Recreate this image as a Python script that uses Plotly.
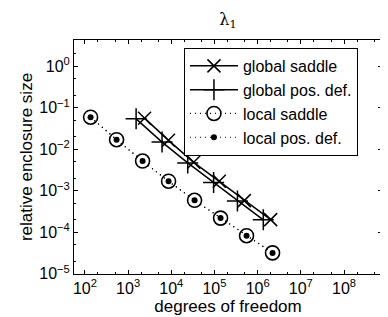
import plotly.graph_objects as go

# data
dof_local = [135, 540, 2160, 8640, 34560, 138240, 552960, 2211840]
local_saddle = [0.059, 0.017, 0.0052, 0.0017, 5.9e-4, 2.2e-4, 8.3e-5, 3.2e-5]
local_posdef = [0.059, 0.017, 0.0052, 0.0017, 5.9e-4, 2.2e-4, 8.3e-5, 3.2e-5]

dof_global_saddle = [2400, 8600, 33000, 129000, 490000, 2.0e6]
global_saddle = [0.056, 0.0164, 0.00484, 0.0017, 5.8e-4, 2.02e-4]

dof_global_posdef = [1530, 6100, 24000, 95500, 340000, 1.35e6]
global_posdef = [0.054, 0.0149, 0.00468, 0.00158, 5.7e-4, 2.0e-4]

x_exponents = [2, 3, 4, 5, 6, 7, 8]
y_exponents = [-5, -4, -3, -2, -1, 0]
x_tickvals = [10.0 ** e for e in x_exponents]
x_ticktext = ["10<sup>%d</sup>" % e for e in x_exponents]
y_tickvals = [10.0 ** e for e in y_exponents]
y_ticktext = ["10<sup>%s</sup>" % (str(e).replace("-", "\u2212")) for e in y_exponents]

FONT = "Liberation Sans, Arial, Helvetica, sans-serif"

fig = go.Figure()
fig.add_trace(go.Scatter(
    x=dof_global_saddle, y=global_saddle, name="global saddle",
    mode="lines+markers",
    line=dict(color="black", width=1.5),
    marker=dict(symbol="x-thin-open", size=13, color="black",
                line=dict(color="black", width=1.5)),
))
fig.add_trace(go.Scatter(
    x=dof_global_posdef, y=global_posdef, name="global pos. def.",
    mode="lines+markers",
    line=dict(color="black", width=1.5),
    marker=dict(symbol="cross-thin-open", size=15, color="black",
                line=dict(color="black", width=1.5)),
))
fig.add_trace(go.Scatter(
    x=dof_local, y=local_saddle, name="local saddle",
    mode="lines+markers",
    line=dict(color="black", width=1.2, dash="1px,4px"),
    marker=dict(symbol="circle-open", size=14, color="black",
                line=dict(color="black", width=1.6)),
))
fig.add_trace(go.Scatter(
    x=dof_local, y=local_posdef, name="local pos. def.",
    mode="lines+markers",
    line=dict(color="black", width=1.2, dash="1px,4px"),
    marker=dict(symbol="circle", size=6, color="black"),
))

axis_common = dict(
    type="log", showline=True, linecolor="black", linewidth=1, mirror="allticks",
    ticks="inside", ticklen=4, tickcolor="black", showgrid=False, zeroline=False,
    tickmode="array",
    tickfont=dict(family=FONT, size=16, color="black"),
    minor=dict(ticks="inside", ticklen=2, tickcolor="black", showgrid=False),
)

fig.update_layout(
    width=388, height=317,
    margin=dict(l=66, r=14, t=32, b=51),
    paper_bgcolor="white", plot_bgcolor="white",
    title=dict(text="λ<sub>1</sub>", x=(66 + 374) / 2 / 388, xanchor="center",
               y=1 - 11 / 317, yanchor="middle",
               font=dict(family="DejaVu Serif, serif", size=16, color="black")),
    xaxis=dict(axis_common, range=[1.746, 8.88],
               tickvals=x_tickvals, ticktext=x_ticktext,
               title=dict(text="degrees of freedom", standoff=0,
                          font=dict(family=FONT, size=17, color="black"))),
    yaxis=dict(axis_common, range=[-5.003, 0.63],
               tickvals=y_tickvals, ticktext=y_ticktext,
               title=dict(text="relative enclosure size", standoff=2,
                          font=dict(family=FONT, size=17, color="black"))),
    legend=dict(x=0.357, y=0.966, xanchor="left", yanchor="top",
                bgcolor="white", bordercolor="black", borderwidth=1,
                font=dict(family=FONT, size=16, color="black"),
                itemwidth=48, tracegroupgap=0),
    showlegend=True,
)

fig.write_html("out.html")
